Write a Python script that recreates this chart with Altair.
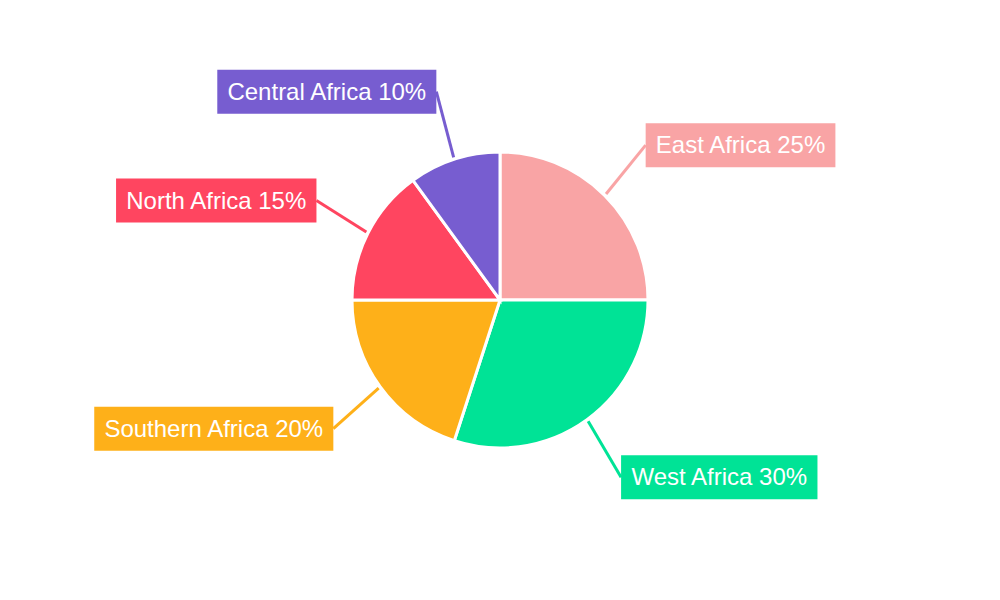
import altair as alt
import pandas as pd

regions = ["East Africa", "West Africa", "Southern Africa", "North Africa", "Central Africa"]
shares = [25, 30, 20, 15, 10]
colors = ["#F9A4A5", "#00E396", "#FEB019", "#FF4560", "#775DD0"]

# Arial / Liberation Sans advance widths (per 1000 em) to size label boxes
_W = {"C": 722, "e": 556, "n": 556, "t": 278, "r": 333, "a": 556, "l": 222, " ": 278,
      "A": 667, "f": 278, "i": 222, "c": 500, "%": 889, "E": 667, "s": 500, "N": 722,
      "o": 556, "h": 556, "S": 667, "u": 556, "W": 944}
FS = 24

def text_w(s):
    return sum(_W.get(ch, 556) for ch in s) * FS / 1000.0

labels = [f"{r} {v}%" for r, v in zip(regions, shares)]
df = pd.DataFrame({
    "region": regions,
    "value": shares,
    "order": list(range(len(regions))),
    "label": labels,
    "bw": [text_w(t) + 19 for t in labels],
})

W, H = 984, 584
R = 148
xs = alt.Scale(domain=[-W / 2, W / 2], nice=False, zero=False)
ys = alt.Scale(domain=[-H / 2, H / 2], nice=False, zero=False)
cscale = alt.Scale(domain=regions, range=colors)

base = alt.Chart(df)

pie = base.mark_arc(outerRadius=R, stroke="white", strokeWidth=3).encode(
    theta=alt.Theta("value:Q", stack=True),
    order=alt.Order("order:Q", sort="ascending"),
    color=alt.Color("region:N", scale=cscale, legend=None),
)

geo = base.transform_joinaggregate(total="sum(value)").transform_window(
    cum="sum(value)", sort=[alt.SortField("order", order="ascending")], frame=[None, 0]
).transform_calculate(
    mid="(datum.cum - datum.value / 2) / datum.total * 2 * PI",
).transform_calculate(
    sx="sin(datum.mid)", cy="cos(datum.mid)",
).transform_calculate(
    lx1=f"{R + 2} * datum.sx", ly1=f"{R + 2} * datum.cy",
    ax="206 * datum.sx", ay="219 * datum.cy",
).transform_calculate(
    bx1="datum.sx >= 0 ? datum.ax : datum.ax - datum.bw",
    bx2="datum.sx >= 0 ? datum.ax + datum.bw : datum.ax",
    by1="datum.ay - 22", by2="datum.ay + 22",
).transform_calculate(
    tx="(datum.bx1 + datum.bx2) / 2",
)

lines = geo.mark_rule(strokeWidth=3).encode(
    x=alt.X("lx1:Q", scale=xs, axis=None),
    y=alt.Y("ly1:Q", scale=ys, axis=None),
    x2="ax:Q", y2="ay:Q",
    color=alt.Color("region:N", scale=cscale, legend=None),
)

boxes = geo.mark_rect().encode(
    x=alt.X("bx1:Q", scale=xs, axis=None),
    x2="bx2:Q",
    y=alt.Y("by1:Q", scale=ys, axis=None),
    y2="by2:Q",
    color=alt.Color("region:N", scale=cscale, legend=None),
)

texts = geo.mark_text(color="white", font="Liberation Sans", fontSize=FS,
                      align="center", baseline="middle", dy=1).encode(
    x=alt.X("tx:Q", scale=xs, axis=None),
    y=alt.Y("ay:Q", scale=ys, axis=None),
    text="label:N",
)

chart = alt.layer(pie, lines, boxes, texts).properties(
    width=W, height=H, padding=0,
    autosize=alt.AutoSizeParams(type="none"),
).configure_view(stroke=None)

chart.save("out.html", embed_options={"renderer": "svg", "actions": False})
